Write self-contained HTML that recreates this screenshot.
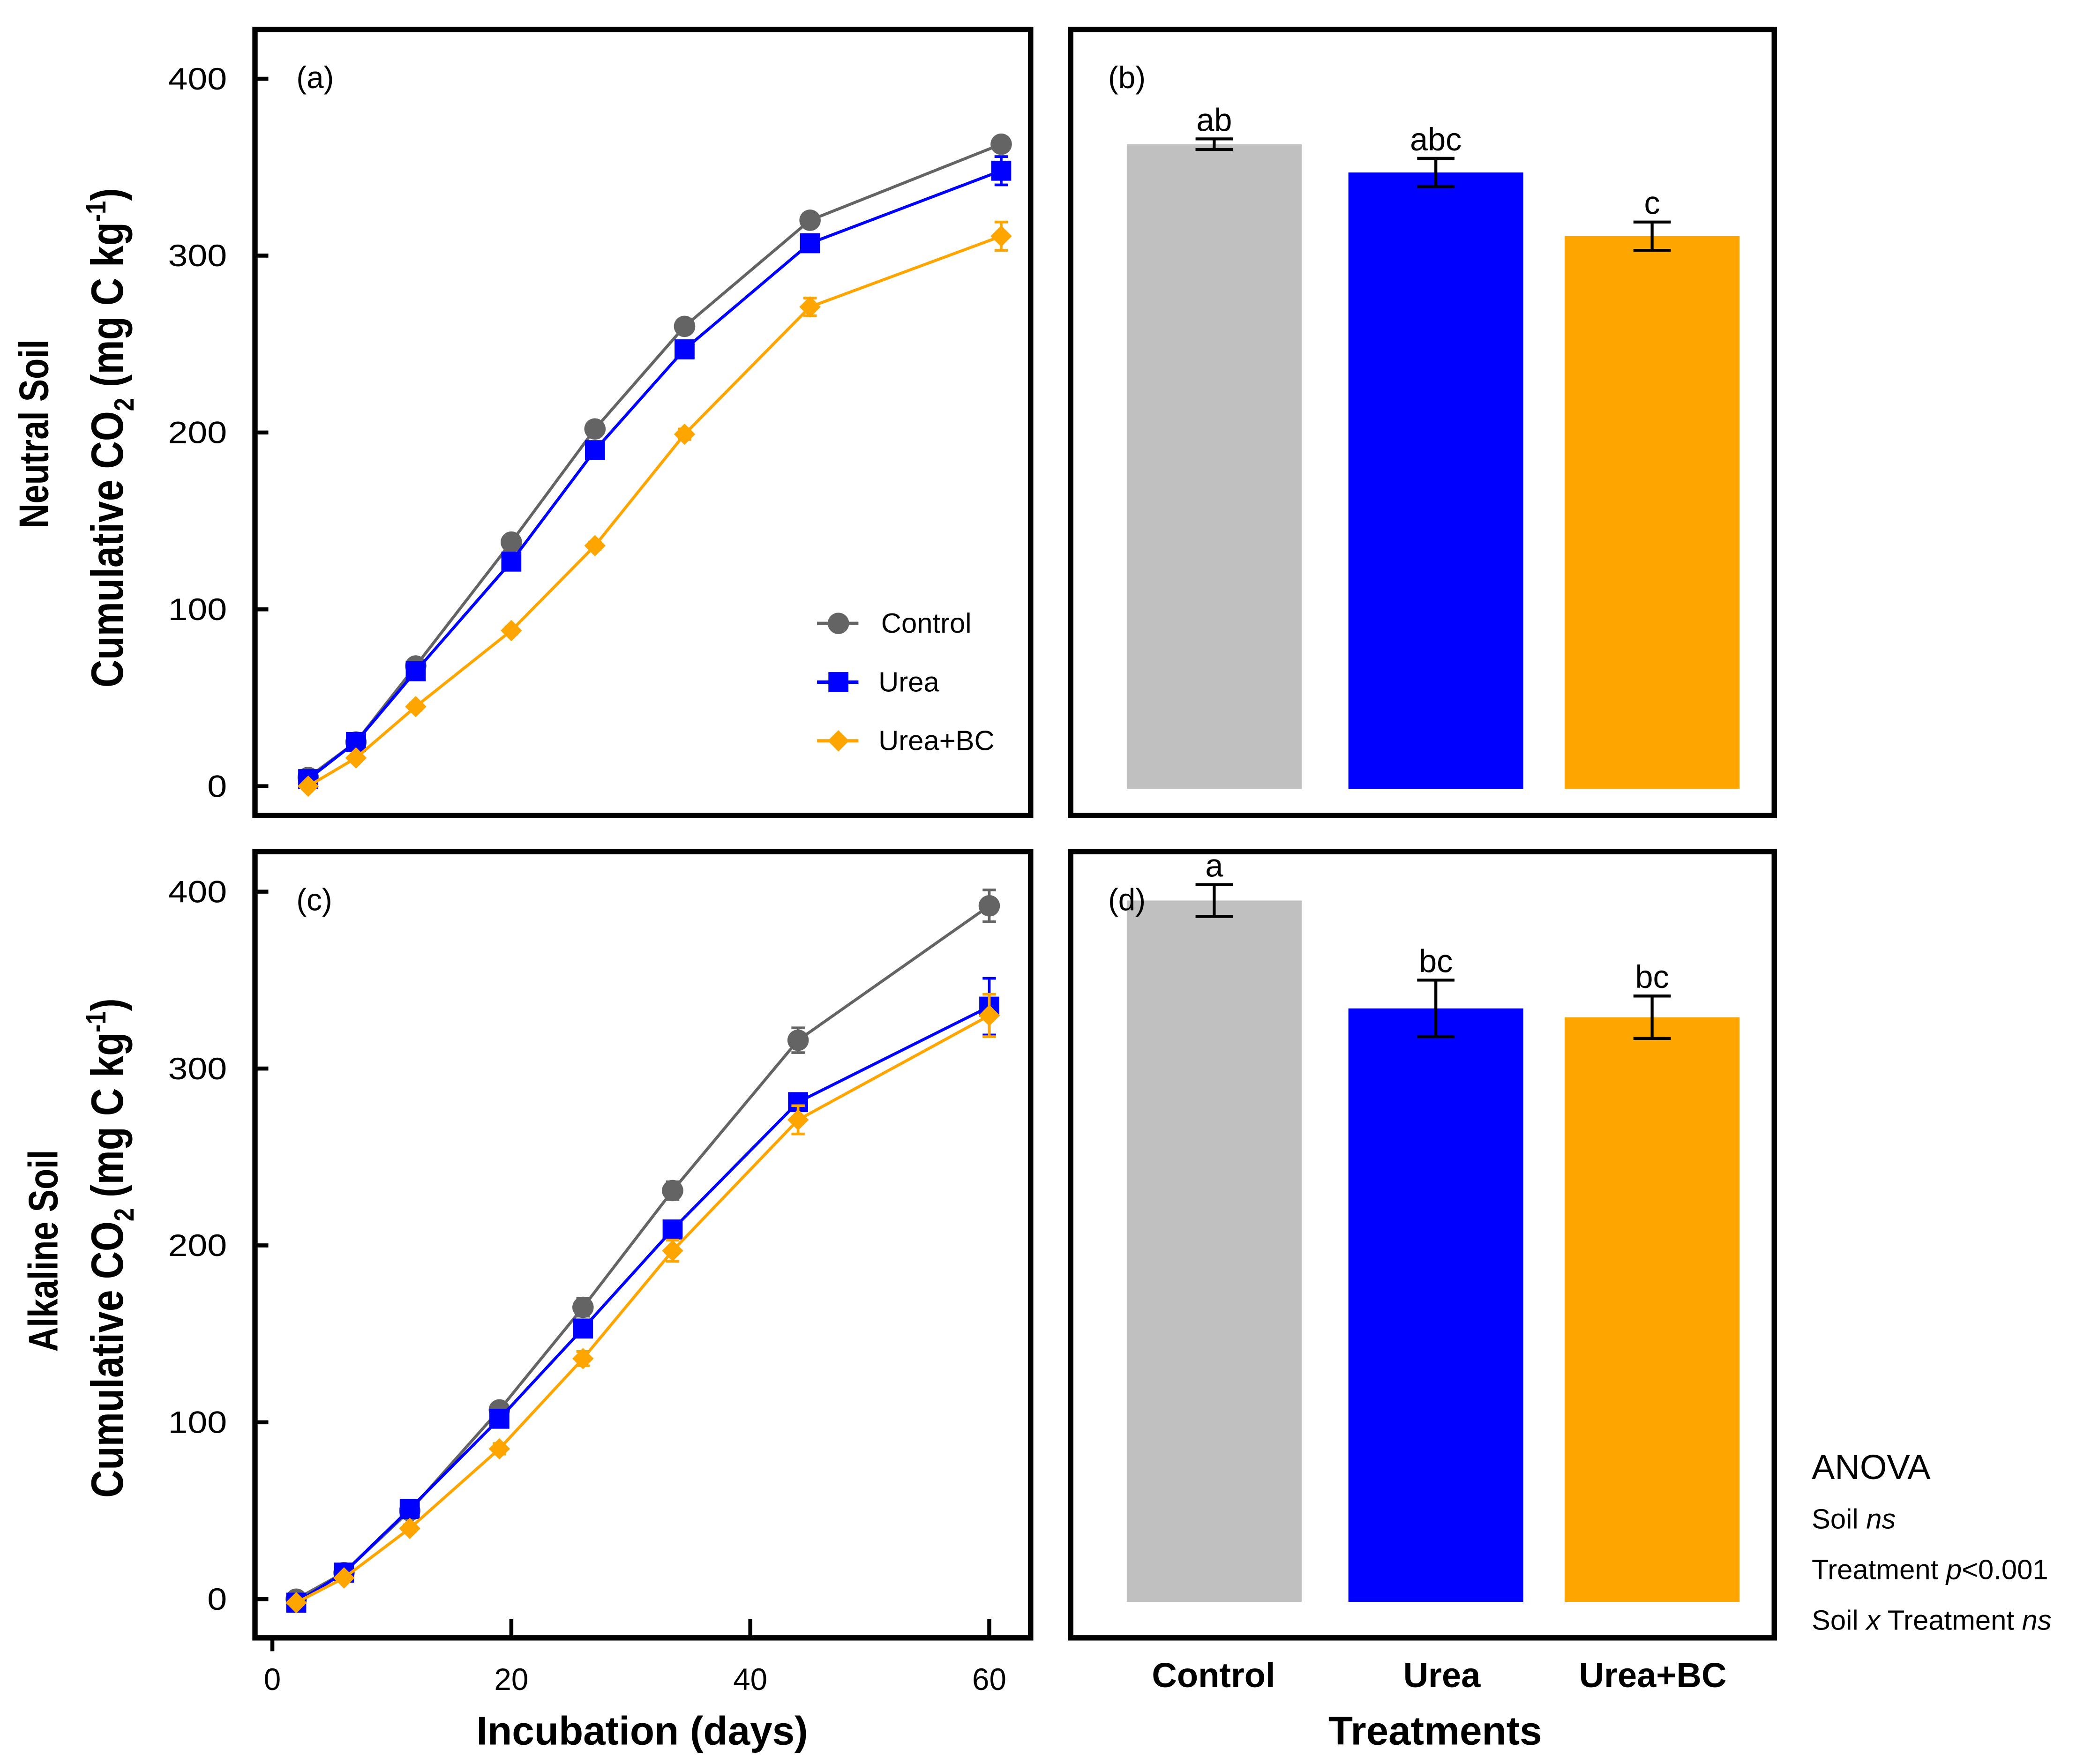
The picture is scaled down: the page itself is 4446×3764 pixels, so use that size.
<!DOCTYPE html>
<html><head><meta charset="utf-8"><style>
html,body{margin:0;padding:0;background:#fff;}
svg{display:block;font-family:"Liberation Sans",Arial,sans-serif;}
</style></head><body>
<svg id="fig" width="4446" height="3764" viewBox="0 0 1561 1321.5" preserveAspectRatio="none" xmlns="http://www.w3.org/2000/svg">
<g id="g"></g>
</svg>
<script>
const seriesNames = ["Control","Urea","Urea+BC"];
const colors = ["#646464","#0000ff","#ffa500"];
const daysA = [3,7,12,20,27,34.5,45,61];
const daysC = [2,6,11.5,19,26,33.5,44,60];
const aControl = [5,25,68,138,202,260,320,363];
const aUrea = [4,25,65,127,190,247,307,348];
const aUreaBC = [0,16,45,88,136,199,271,311];
const aErr = [[1,2,2,3,3,3,3,3],[1,2,3,3,3,3,4,8],[1,1,2,2,2,3,5,8]];
const cControl = [0,15,50,107,165,231,316,392];
const cUrea = [-2,15,51,102,153,209,281,335];
const cUreaBC = [-2,12,40,85,136,197,271,330];
const cErr = [[1,2,2,3,5,5,7,9],[1,2,2,3,3,3,3,16],[1,1,2,3,4,6,8,12]];
const bMeans = [363,347,311];
const bErr = [3,8,8];
const bLetters = ["ab","abc","c"];
const dMeans = [395,334,329];
const dErr = [9,16,12];
const dLetters = ["a","bc","bc"];
const yTicks = [0,100,200,300,400];
const xTicks = [0,20,40,60];

const NS="http://www.w3.org/2000/svg";
const root=document.getElementById('g');
function el(tag,attrs,parent,text){const e=document.createElementNS(NS,tag);for(const k in attrs)e.setAttribute(k,attrs[k]);if(text!==undefined)e.textContent=text;(parent||root).appendChild(e);return e;}

function panel(top,y0,label,days,series,errs,withX,withLegend,name){
  const yS=v=>y0-v*1.325;
  const xS=d=>204+d*8.95;
  const grp=el('g',{});
  
  
  const fr=el('rect',{x:191,y:top,width:581,height:589,fill:'none',stroke:'#000','stroke-width':4},grp);
  
  
  yTicks.forEach(t=>{
    const ln=el('line',{x1:191,x2:201,y1:yS(t),y2:yS(t),stroke:'#000','stroke-width':3},grp);
    
    
    const tx=el('text',{x:170,y:yS(t)+8,'font-size':23,'text-anchor':'end',transform:`translate(170 0) scale(1.15 1) translate(-170 0)`},grp,String(t));
    
    
  });
  if(withX){
    xTicks.forEach(t=>{
      const ln=el('line',{x1:xS(t),x2:xS(t),y1:t===0?top+589:top+589-14,y2:t===0?top+599:top+589,stroke:'#000','stroke-width':3},grp);
      
      
      const tx=el('text',{x:xS(t),y:top+628,'font-size':23,'text-anchor':'middle'},grp,String(t));
      
      
    });
  }
  const pl=el('text',{x:222,y:top+44,'font-size':23},grp,label);
  
  
  series.forEach((vals,si)=>{
    const c=colors[si];
    const pts=vals.map((v,i)=>xS(days[i])+','+yS(v)).join(' ');
    const line=el('polyline',{points:pts,fill:'none',stroke:c,'stroke-width':2.2},grp);
    
    
    vals.forEach((v,i)=>{
      const x=xS(days[i]),y=yS(v),e=errs[si][i]*1.325;
      el('path',{d:`M${x},${y-e}V${y+e}M${x-5},${y-e}H${x+5}M${x-5},${y+e}H${x+5}`,stroke:c,'stroke-width':2},grp);
      let m;
      if(si===0)m=el('circle',{cx:x,cy:y,r:8,fill:c},grp);
      else if(si===1)m=el('rect',{x:x-7.5,y:y-7.5,width:15,height:15,fill:c},grp);
      else m=el('path',{d:`M${x},${y-8}L${x+8},${y}L${x},${y+8}L${x-8},${y}Z`,fill:c},grp);
      
      
    });
  });
  if(withLegend){
    [467,511,555].forEach((ly,si)=>{
      const c=colors[si];
      const lg=el('g',{},grp);
      
      
      el('line',{x1:612,x2:643,y1:ly,y2:ly,stroke:c,'stroke-width':2.5},lg);
      if(si===0)el('circle',{cx:628,cy:ly,r:8,fill:c},lg);
      else if(si===1)el('rect',{x:620.5,y:ly-7.5,width:15,height:15,fill:c},lg);
      else el('path',{d:`M628,${ly-8}L636,${ly}L628,${ly+8}L620,${ly}Z`,fill:c},lg);
      el('text',{x:si===0?660:658,y:ly+7,'font-size':21},lg,seriesNames[si]);
    });
  }
}

function barPanel(top,y0,label,means,errs,letters,name){
  const yS=v=>y0-v*1.325;
  const bx=[844,1010,1172];
  const fills=["#c0c0c0","#0000ff","#ffa500"];
  const grp=el('g',{});
  
  
  means.forEach((m,i)=>{
    const b=el('rect',{x:bx[i],y:yS(m),width:131,height:y0+2-yS(m),fill:fills[i]},grp);
    
    
    const cx=bx[i]+65.5,e=errs[i]*1.325,y=yS(m);
    el('path',{d:`M${cx},${y-e}V${y+e}M${cx-14},${y-e}H${cx+14}M${cx-14},${y+e}H${cx+14}`,stroke:'#000','stroke-width':2.2},grp);
    const t=el('text',{x:cx,y:y-e-6,'font-size':24,'text-anchor':'middle'},grp,letters[i]);
    
    
  });
  const fr=el('rect',{x:802,y:top,width:527,height:589,fill:'none',stroke:'#000','stroke-width':4},grp);
  
  
  const pl=el('text',{x:830,y:top+44,'font-size':23},grp,label);
  
  
}

panel(22,589,'(a)',daysA,[aControl,aUrea,aUreaBC],aErr,false,true,'panel-a');
panel(638,1198,'(c)',daysC,[cControl,cUrea,cUreaBC],cErr,true,false,'panel-c');
barPanel(22,589,'(b)',bMeans,bErr,bLetters,'panel-b');
barPanel(638,1198,'(d)',dMeans,dErr,dLetters,'panel-d');
</script>
<svg style="position:absolute;left:0;top:0" width="4446" height="3764" viewBox="0 0 1561 1321.5" preserveAspectRatio="none" xmlns="http://www.w3.org/2000/svg" font-family="Liberation Sans, Arial, sans-serif">
<g transform="translate(36 325) rotate(-90) scale(0.82 1)"><text x="0" y="0" text-anchor="middle" font-size="31" font-weight="bold">Neutral Soil</text></g>
<g transform="translate(92 328) rotate(-90) scale(0.85 1)"><text x="0" y="0" text-anchor="middle" font-size="34" font-weight="bold">Cumulative CO<tspan font-size="21" dy="8">2</tspan><tspan dy="-8"> (mg C kg</tspan><tspan font-size="21" dy="-13">-1</tspan><tspan dy="13">)</tspan></text></g>
<g transform="translate(43 937) rotate(-90) scale(0.82 1)"><text x="0" y="0" text-anchor="middle" font-size="31" font-weight="bold">Alkaline Soil</text></g>
<g transform="translate(92 935) rotate(-90) scale(0.85 1)"><text x="0" y="0" text-anchor="middle" font-size="34" font-weight="bold">Cumulative CO<tspan font-size="21" dy="8">2</tspan><tspan dy="-8"> (mg C kg</tspan><tspan font-size="21" dy="-13">-1</tspan><tspan dy="13">)</tspan></text></g>
<text x="481" y="1307" text-anchor="middle" font-size="30" font-weight="bold">Incubation (days)</text>
<text x="1075" y="1307" text-anchor="middle" font-size="30" font-weight="bold">Treatments</text>
<text x="909" y="1264" text-anchor="middle" font-size="26" font-weight="bold">Control</text>
<text x="1080" y="1264" text-anchor="middle" font-size="26" font-weight="bold">Urea</text>
<text x="1238" y="1264" text-anchor="middle" font-size="26" font-weight="bold">Urea+BC</text>
<text x="1357" y="1108" font-size="26">ANOVA</text>
<text x="1357" y="1145" font-size="21">Soil <tspan font-style="italic">ns</tspan></text>
<text x="1357" y="1183" font-size="21">Treatment <tspan font-style="italic">p</tspan>&lt;0.001</text>
<text x="1357" y="1221" font-size="21">Soil <tspan font-style="italic">x</tspan> Treatment <tspan font-style="italic">ns</tspan></text>
</svg>
</body></html>
